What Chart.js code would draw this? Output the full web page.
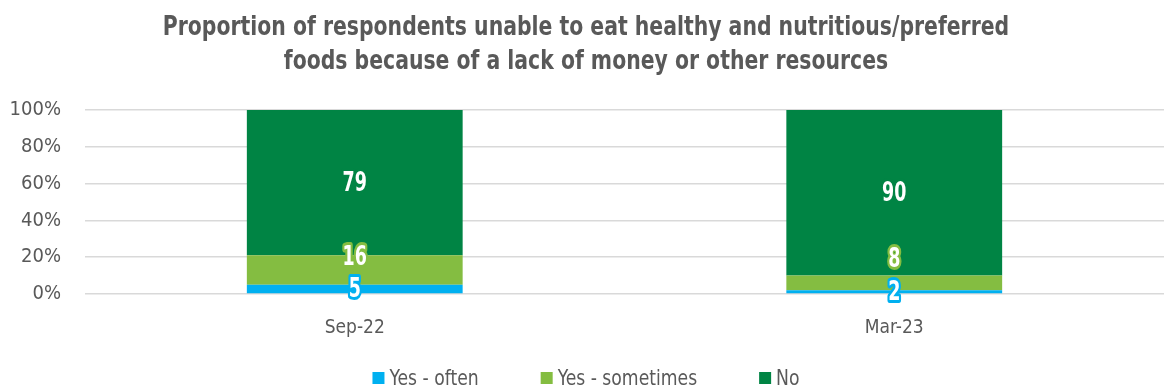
<!DOCTYPE html>
<html>
<head>
<meta charset="utf-8">
<script src="https://cdn.jsdelivr.net/npm/chart.js@4/dist/chart.umd.min.js"></script>
<style>
  html, body { margin: 0; padding: 0; background: #fff; }
  #wrap { width: 1164px; height: 392px; }
</style>
</head>
<body>
<div id="wrap"><canvas id="foodChart"></canvas></div>
<script>
const FONT = '"DejaVu Sans Condensed", "Liberation Sans Narrow", "Roboto", sans-serif';
const TEXT = '#595959';

const periods = ['Sep-22', 'Mar-23'];
const yesOften = [5, 2];
const yesSometimes = [16, 8];
const no = [79, 90];
const yTicks = [0, 20, 40, 60, 80, 100];

const titleLines = [
    'Proportion of respondents unable to eat healthy and nutritious/preferred',
    'foods because of a lack of money or other resources'
];

const BLUE = '#00B0F0';
const LIGHT_GREEN = '#84BD41';
const DARK_GREEN = '#008444';

// draw text squeezed horizontally to get a narrow face
function narrowText(ctx, text, x, y, sx, stroke) {
    ctx.save();
    ctx.translate(x, y);
    ctx.scale(sx, 1);
    if (stroke) ctx.strokeText(text, 0, 0);
    ctx.fillText(text, 0, 0);
    ctx.restore();
}

const titleBlock = {
    id: 'titleBlock',
    afterDraw(chart) {
        const ctx = chart.ctx;
        ctx.save();
        ctx.font = 'bold 27px ' + FONT;
        ctx.fillStyle = TEXT;
        ctx.textAlign = 'center';
        ctx.textBaseline = 'middle';
        titleLines.forEach((line, i) => {
            narrowText(ctx, line, chart.width / 2 + 4, 28 + i * 34, 0.84, false);
        });
        ctx.restore();
    }
};

// white numbers with an outline in the segment colour
const segmentLabels = {
    id: 'segmentLabels',
    afterDatasetsDraw(chart) {
        const ctx = chart.ctx;
        const yScale = chart.scales.y;
        ctx.save();
        ctx.font = 'bold 27px ' + FONT;
        ctx.textAlign = 'center';
        ctx.textBaseline = 'middle';
        ctx.lineJoin = 'round';
        chart.data.datasets.forEach((ds, di) => {
            const meta = chart.getDatasetMeta(di);
            meta.data.forEach((bar, i) => {
                const v = String(ds.data[i]);
                let y = (bar.y + bar.base) / 2 + 1;
                // the middle series sits on the 20% line so it clears thin segments
                if (di === 1) y = Math.min(bar.y, yScale.getPixelForValue(20)) + 3;
                ctx.lineWidth = 6;
                ctx.strokeStyle = ds.backgroundColor;
                ctx.fillStyle = '#fff';
                narrowText(ctx, v, bar.x, y, 0.72, true);
            });
        });
        ctx.restore();
    }
};

// legend row under the axis
const bottomLegend = {
    id: 'bottomLegend',
    afterDraw(chart) {
        const ctx = chart.ctx;
        const sx = 0.87;
        const box = 12, boxGap = 5, itemGap = 62;
        const y = 378;
        ctx.save();
        ctx.font = '22px ' + FONT;
        ctx.textBaseline = 'middle';
        ctx.textAlign = 'left';
        const items = chart.data.datasets.map(ds => ({
            text: ds.label,
            color: ds.backgroundColor,
            w: ctx.measureText(ds.label).width * sx
        }));
        const total = items.reduce((s, it) => s + box + boxGap + it.w, 0) + itemGap * (items.length - 1);
        let x = chart.width / 2 + 4 - total / 2;
        items.forEach(it => {
            ctx.fillStyle = it.color;
            ctx.fillRect(x, y - box / 2, box, box);
            x += box + boxGap;
            ctx.fillStyle = TEXT;
            narrowText(ctx, it.text, x, y + 1, sx, false);
            x += it.w + itemGap;
        });
        ctx.restore();
    }
};

new Chart(document.getElementById('foodChart'), {
    type: 'bar',
    data: {
        labels: periods,
        datasets: [
            { label: 'Yes - often', data: yesOften, backgroundColor: BLUE },
            { label: 'Yes - sometimes', data: yesSometimes, backgroundColor: LIGHT_GREEN },
            { label: 'No', data: no, backgroundColor: DARK_GREEN }
        ]
    },
    options: {
        responsive: true,
        maintainAspectRatio: false,
        animation: false,
        datasets: {
            bar: { barPercentage: 0.4, categoryPercentage: 1 }
        },
        layout: {
            padding: { left: 6, right: 0, top: 110, bottom: 54 }
        },
        scales: {
            x: {
                stacked: true,
                grid: { display: false },
                border: { display: false },
                afterFit(axis) {
                    axis.height = 44;
                },
                ticks: {
                    color: TEXT,
                    font: { family: FONT, size: 19 },
                    padding: 15
                }
            },
            y: {
                stacked: true,
                min: 0,
                max: 100,
                afterBuildTicks(axis) {
                    axis.ticks = yTicks.map(v => ({ value: v }));
                },
                afterFit(axis) {
                    axis.width = 79;
                },
                grid: { color: '#D9D9D9', lineWidth: 1.5, drawTicks: false },
                border: { display: false },
                ticks: {
                    color: TEXT,
                    font: { family: FONT, size: 20 },
                    padding: 24,
                    callback: v => v + '%'
                }
            }
        },
        plugins: {
            title: { display: false },
            legend: { display: false },
            tooltip: { enabled: false }
        }
    },
    plugins: [segmentLabels, titleBlock, bottomLegend]
});
</script>
</body>
</html>
